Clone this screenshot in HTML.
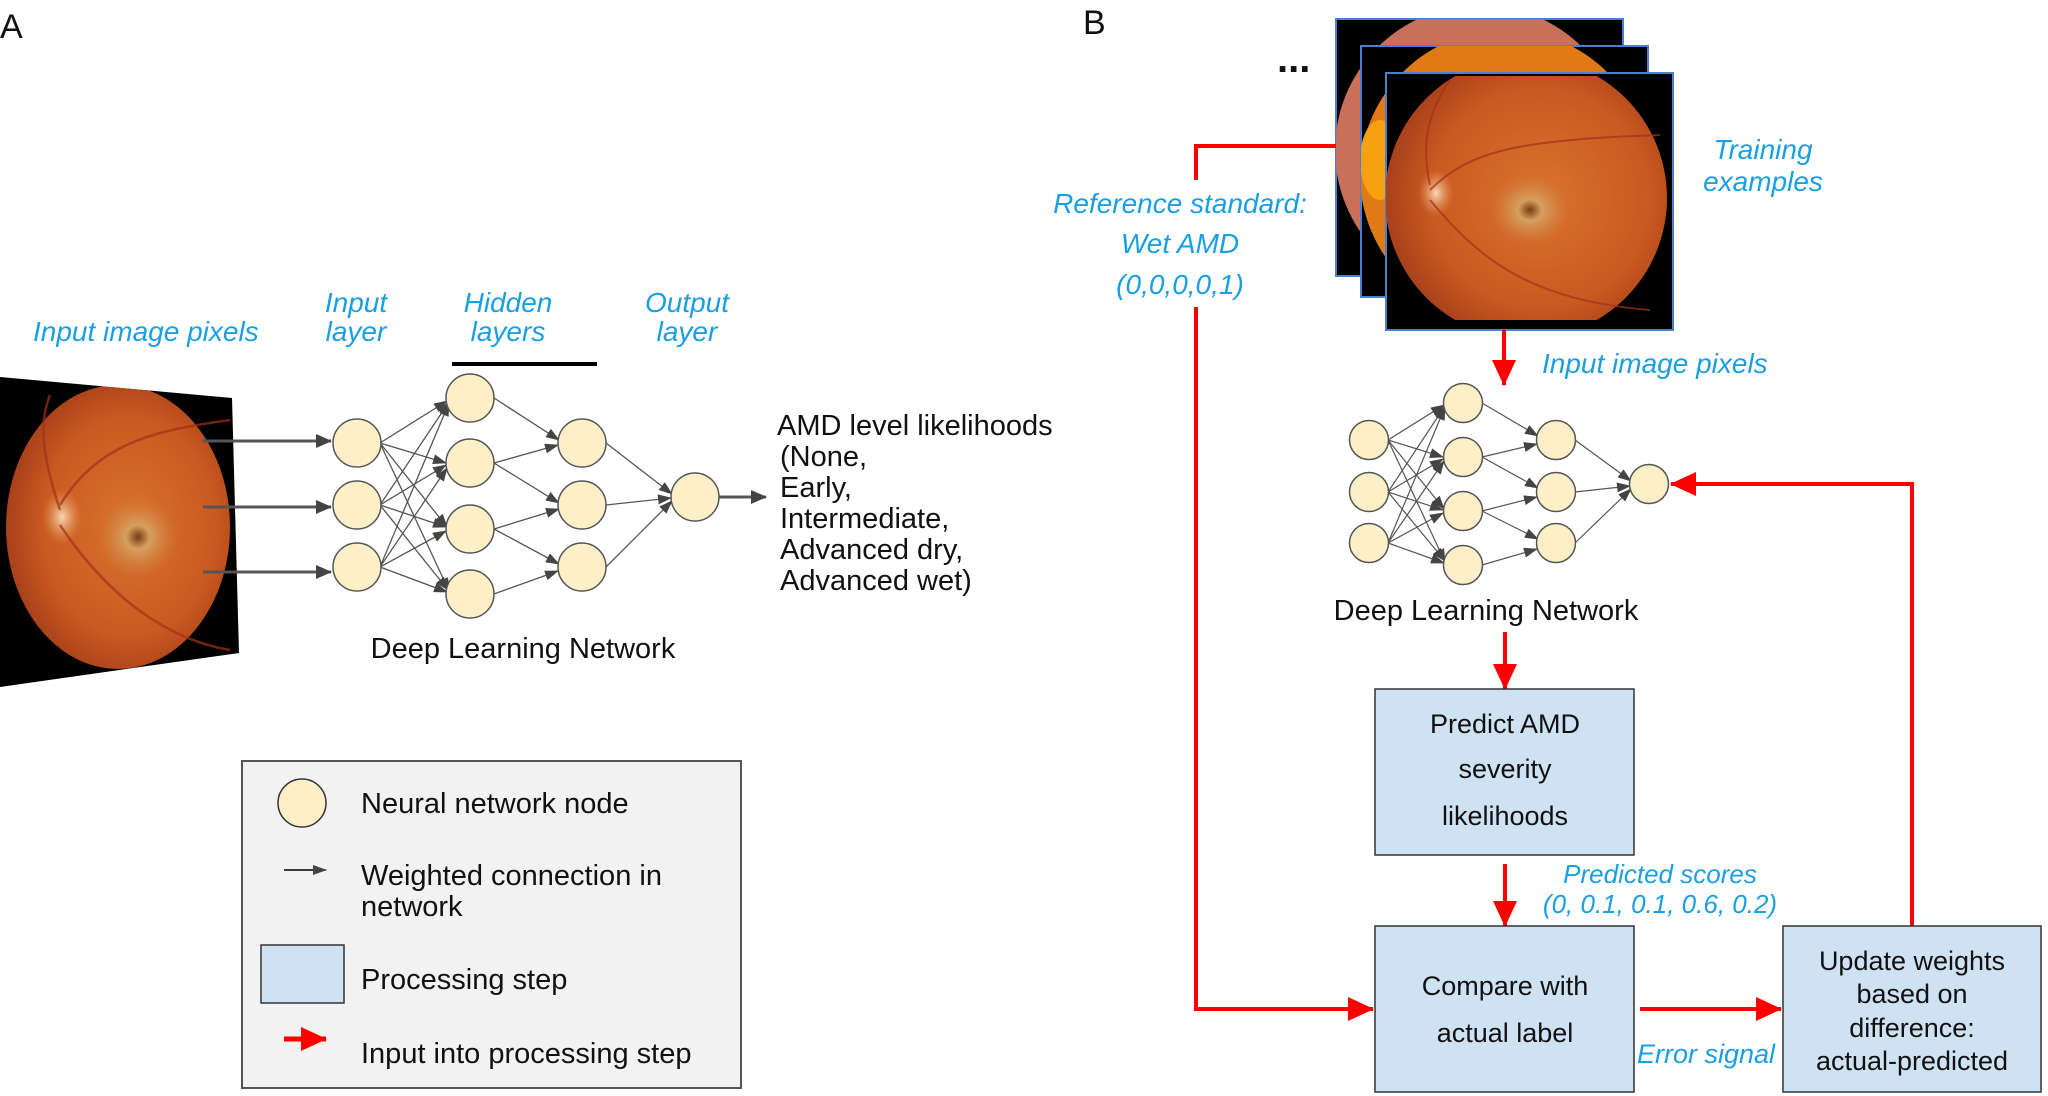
<!DOCTYPE html>
<html><head><meta charset="utf-8"><style>
html,body{margin:0;padding:0;background:#fff;}
svg{display:block;}
text{font-family:"Liberation Sans",sans-serif;}
.b{fill:#1a9fe3;font-style:italic;font-size:28px;}
.k{fill:#111;font-size:29px;}
</style></head><body>
<svg width="2048" height="1096" viewBox="0 0 2048 1096" xmlns="http://www.w3.org/2000/svg">
<defs>
<marker id="ga" markerWidth="14" markerHeight="10" refX="13" refY="5" orient="auto" markerUnits="userSpaceOnUse"><path d="M0,0 L14,5 L0,10 Z" fill="#444"/></marker>
<marker id="gb" markerWidth="16" markerHeight="14" refX="15" refY="7" orient="auto" markerUnits="userSpaceOnUse"><path d="M0,0 L16,7 L0,14 Z" fill="#444"/></marker>
<marker id="ra" markerWidth="26" markerHeight="24" refX="25" refY="12" orient="auto" markerUnits="userSpaceOnUse"><path d="M0,0 L26,12 L0,24 Z" fill="#f00"/></marker>
<radialGradient id="fg" cx="0.55" cy="0.5" r="0.55">
<stop offset="0" stop-color="#d9742f"/><stop offset="0.7" stop-color="#c95a20"/><stop offset="1" stop-color="#a8401a"/></radialGradient>
<radialGradient id="disc" cx="0.5" cy="0.5" r="0.5"><stop offset="0" stop-color="#f7d8b8"/><stop offset="1" stop-color="#e4955a" stop-opacity="0"/></radialGradient>
<radialGradient id="mac" cx="0.5" cy="0.5" r="0.5"><stop offset="0" stop-color="#7a3a10"/><stop offset="0.3" stop-color="#d6a060"/><stop offset="1" stop-color="#d28040" stop-opacity="0"/></radialGradient>
<clipPath id="c1"><rect x="1336" y="19" width="287" height="257"/></clipPath>
<clipPath id="c2"><rect x="1361" y="46" width="287" height="251"/></clipPath>
<clipPath id="c3"><rect x="1386" y="76" width="287" height="244"/></clipPath>
<clipPath id="cl"><polygon points="0,377 232,398 239,653 0,687"/></clipPath>
</defs>

<text x="0" y="38" style="font-size:34px;fill:#111">A</text>
<text x="1083" y="34" style="font-size:34px;fill:#111">B</text>

<polygon points="0,377 232,398 239,653 0,687" fill="#000"/>
<g clip-path="url(#cl)">
<ellipse cx="118" cy="527" rx="112" ry="142" fill="url(#fg)"/>
<ellipse cx="62" cy="517" rx="20" ry="28" fill="url(#disc)"/>
<ellipse cx="138" cy="537" rx="40" ry="40" fill="url(#mac)"/>
<path d="M60,505 C100,440 160,430 230,420 M60,525 C110,600 170,640 230,650 M60,510 C40,450 40,420 50,395" stroke="#a3301a" stroke-width="2.5" fill="none" opacity="0.7"/>
</g>

<text class="b" x="33" y="341">Input image pixels</text>
<text class="b" x="356" y="312" text-anchor="middle">Input</text>
<text class="b" x="356" y="341" text-anchor="middle">layer</text>
<text class="b" x="508" y="312" text-anchor="middle">Hidden</text>
<text class="b" x="508" y="341" text-anchor="middle">layers</text>
<text class="b" x="687" y="312" text-anchor="middle">Output</text>
<text class="b" x="687" y="341" text-anchor="middle">layer</text>
<line x1="452" y1="364" x2="597" y2="364" stroke="#000" stroke-width="4"/>

<g stroke="#555" stroke-width="1.3" fill="none" marker-end="url(#ga)">
<line x1="203" y1="441" x2="331" y2="441" stroke-width="3" marker-end="url(#gb)"/>
<line x1="203" y1="507" x2="331" y2="507" stroke-width="3" marker-end="url(#gb)"/>
<line x1="203" y1="572" x2="331" y2="572" stroke-width="3" marker-end="url(#gb)"/>
<line x1="380" y1="443" x2="447" y2="401"/><line x1="380" y1="443" x2="446" y2="463"/><line x1="380" y1="443" x2="447" y2="527"/><line x1="380" y1="443" x2="449" y2="591"/>
<line x1="380" y1="505" x2="449" y2="402"/><line x1="380" y1="505" x2="446" y2="465"/><line x1="380" y1="505" x2="446" y2="527"/><line x1="380" y1="505" x2="448" y2="590"/>
<line x1="380" y1="567" x2="449" y2="403"/><line x1="380" y1="567" x2="447" y2="468"/><line x1="380" y1="567" x2="446" y2="531"/><line x1="380" y1="567" x2="447" y2="592"/>
<line x1="494" y1="398" x2="559" y2="440"/>
<line x1="494" y1="463" x2="558" y2="445"/><line x1="494" y1="463" x2="559" y2="503"/>
<line x1="494" y1="529" x2="559" y2="509"/><line x1="494" y1="529" x2="559" y2="564"/>
<line x1="494" y1="594" x2="558" y2="571"/>
<line x1="606" y1="443" x2="672" y2="494"/><line x1="606" y1="505" x2="671" y2="498"/><line x1="606" y1="567" x2="672" y2="501"/>
<line x1="719" y1="497" x2="766" y2="497" stroke-width="3" marker-end="url(#gb)"/>
</g>
<g fill="#fdf0c8" stroke="#555" stroke-width="1.5">
<circle cx="357" cy="443" r="24"/><circle cx="357" cy="505" r="24"/><circle cx="357" cy="567" r="24"/>
<circle cx="470" cy="398" r="24"/><circle cx="470" cy="463" r="24"/><circle cx="470" cy="529" r="24"/><circle cx="470" cy="594" r="24"/>
<circle cx="582" cy="443" r="24"/><circle cx="582" cy="505" r="24"/><circle cx="582" cy="567" r="24"/>
<circle cx="695" cy="497" r="24"/>
</g>
<text class="k" x="777" y="435">AMD level likelihoods</text>
<text class="k" x="780" y="466">(None,</text>
<text class="k" x="780" y="497">Early,</text>
<text class="k" x="780" y="528">Intermediate,</text>
<text class="k" x="780" y="559">Advanced dry,</text>
<text class="k" x="780" y="590">Advanced wet)</text>
<text class="k" x="523" y="658" text-anchor="middle">Deep Learning Network</text>

<rect x="242" y="761" width="499" height="327" fill="#f2f2f2" stroke="#555" stroke-width="2"/>
<circle cx="302" cy="803" r="24" fill="#fdf0c8" stroke="#333" stroke-width="1.5"/>
<text class="k" x="361" y="813">Neural network node</text>
<line x1="284" y1="870" x2="326" y2="870" stroke="#000" stroke-width="1.5" marker-end="url(#ga)"/>
<text class="k" x="361" y="885">Weighted connection in</text>
<text class="k" x="361" y="916">network</text>
<rect x="261" y="945" width="83" height="58" fill="#cfe2f3" stroke="#333" stroke-width="1.5"/>
<text class="k" x="361" y="989">Processing step</text>
<line x1="284" y1="1039" x2="326" y2="1039" stroke="#f00" stroke-width="5" marker-end="url(#ra)"/>
<text class="k" x="361" y="1063">Input into processing step</text>

<text x="1277" y="72" style="font-size:40px;font-weight:bold;fill:#111">...</text>
<rect x="1336" y="19" width="287" height="257" fill="#000" stroke="#4a7fd6" stroke-width="2"/>
<g clip-path="url(#c1)"><circle cx="1480" cy="150" r="145" fill="#c8705a"/></g>
<rect x="1361" y="46" width="287" height="251" fill="#000" stroke="#4a7fd6" stroke-width="2"/>
<g clip-path="url(#c2)"><circle cx="1505" cy="175" r="145" fill="#e07a15"/><ellipse cx="1380" cy="160" rx="20" ry="40" fill="#f7a010"/></g>
<rect x="1386" y="73" width="287" height="257" fill="#000" stroke="#4a7fd6" stroke-width="2"/>
<g clip-path="url(#c3)">
<circle cx="1526" cy="198" r="141" fill="url(#fg)"/>
<ellipse cx="1436" cy="193" rx="18" ry="24" fill="url(#disc)"/>
<ellipse cx="1530" cy="210" rx="40" ry="35" fill="url(#mac)"/>
<path d="M1430,190 C1470,150 1520,140 1660,135 M1430,200 C1480,260 1530,300 1650,310 M1430,185 C1420,140 1430,110 1450,80" stroke="#a3301a" stroke-width="2" fill="none" opacity="0.7"/>
</g>

<text class="b" x="1180" y="213" text-anchor="middle">Reference standard:</text>
<text class="b" x="1180" y="253" text-anchor="middle">Wet AMD</text>
<text class="b" x="1180" y="294" text-anchor="middle">(0,0,0,0,1)</text>
<text class="b" x="1763" y="159" text-anchor="middle">Training</text>
<text class="b" x="1763" y="191" text-anchor="middle">examples</text>
<text class="b" x="1542" y="373">Input image pixels</text>

<g stroke="#f00" stroke-width="4" fill="none">
<polyline points="1336,146 1196,146 1196,180"/>
<polyline points="1196,307 1196,1009 1373,1009" marker-end="url(#ra)"/>
<line x1="1504" y1="330" x2="1504" y2="385" marker-end="url(#ra)"/>
<line x1="1505" y1="632" x2="1505" y2="689" marker-end="url(#ra)"/>
<line x1="1505" y1="864" x2="1505" y2="926" marker-end="url(#ra)"/>
<line x1="1640" y1="1009" x2="1781" y2="1009" marker-end="url(#ra)"/>
<polyline points="1912,926 1912,484 1671,484" marker-end="url(#ra)"/>
</g>

<g stroke="#555" stroke-width="1.2" fill="none" marker-end="url(#ga)">
<line x1="1388" y1="440" x2="1444" y2="405"/><line x1="1388" y1="440" x2="1443" y2="457"/><line x1="1388" y1="440" x2="1444" y2="509"/><line x1="1388" y1="440" x2="1445" y2="562"/>
<line x1="1388" y1="492" x2="1445" y2="406"/><line x1="1388" y1="492" x2="1443" y2="459"/><line x1="1388" y1="492" x2="1443" y2="510"/><line x1="1388" y1="492" x2="1445" y2="561"/>
<line x1="1388" y1="543" x2="1445" y2="407"/><line x1="1388" y1="543" x2="1444" y2="461"/><line x1="1388" y1="543" x2="1443" y2="513"/><line x1="1388" y1="543" x2="1444" y2="563"/>
<line x1="1482" y1="403" x2="1538" y2="436"/>
<line x1="1482" y1="457" x2="1537" y2="444"/><line x1="1482" y1="457" x2="1538" y2="488"/>
<line x1="1482" y1="511" x2="1537" y2="497"/><line x1="1482" y1="511" x2="1538" y2="539"/>
<line x1="1482" y1="565" x2="1537" y2="549"/>
<line x1="1575" y1="440" x2="1631" y2="481"/><line x1="1575" y1="492" x2="1630" y2="486"/><line x1="1575" y1="543" x2="1631" y2="489"/>
</g>
<g fill="#fdf0c8" stroke="#555" stroke-width="1.5">
<circle cx="1369" cy="440" r="19.5"/><circle cx="1369" cy="492" r="19.5"/><circle cx="1369" cy="543" r="19.5"/>
<circle cx="1463" cy="403" r="19.5"/><circle cx="1463" cy="457" r="19.5"/><circle cx="1463" cy="511" r="19.5"/><circle cx="1463" cy="565" r="19.5"/>
<circle cx="1556" cy="440" r="19.5"/><circle cx="1556" cy="492" r="19.5"/><circle cx="1556" cy="543" r="19.5"/>
<circle cx="1649" cy="484" r="19.5"/>
</g>
<text class="k" x="1486" y="620" text-anchor="middle">Deep Learning Network</text>

<g fill="#cfe2f3" stroke="#333" stroke-width="1.5">
<rect x="1375" y="689" width="259" height="166"/>
<rect x="1375" y="926" width="259" height="166"/>
<rect x="1783" y="926" width="258" height="166"/>
</g>
<g class="k" text-anchor="middle" style="font-size:27px">
<text x="1505" y="733">Predict AMD</text>
<text x="1505" y="778">severity</text>
<text x="1505" y="825">likelihoods</text>
<text x="1505" y="995">Compare with</text>
<text x="1505" y="1042">actual label</text>
<text x="1912" y="970">Update weights</text>
<text x="1912" y="1003">based on</text>
<text x="1912" y="1037">difference:</text>
<text x="1912" y="1070">actual-predicted</text>
</g>
<text class="b" x="1660" y="883" text-anchor="middle" style="font-size:26px">Predicted scores</text>
<text class="b" x="1660" y="913" text-anchor="middle" style="font-size:26px">(0, 0.1, 0.1, 0.6, 0.2)</text>
<text class="b" x="1637" y="1063" style="font-size:27px">Error signal</text>
</svg>
</body></html>
